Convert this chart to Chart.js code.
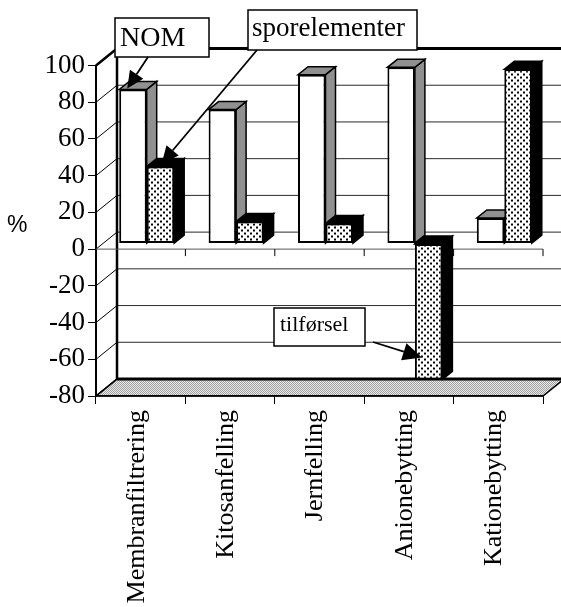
<!DOCTYPE html>
<html>
<head>
<meta charset="utf-8">
<script src="https://cdn.jsdelivr.net/npm/chart.js@4/dist/chart.umd.min.js"></script>
<style>
  html, body { margin: 0; padding: 0; background: #fff; }
  #wrap { width: 561px; height: 607px; position: relative; }
</style>
</head>
<body>
<div id="wrap"><canvas id="c" width="561" height="607"></canvas></div>
<script>
// Removal efficiency per treatment method (%)
const categories = ['Membranfiltrering', 'Kitosanfelling', 'Jernfelling', 'Anionebytting', 'Kationebytting'];
const nomValues  = [84, 73, 92, 96, 14];
const sporValues = [42, 12, 11, -74, 95];
const seriesNames = ['NOM', 'sporelementer'];
const yTickValues = [-80, -60, -40, -20, 0, 20, 40, 60, 80, 100];
const supplyLabel = 'tilførsel';
const yUnit = '%';

const SERIF = '"Liberation Serif", "Times New Roman", serif';
const WALL  = { x: 21, y: -17 };   // front plane -> back wall
const PLANE = { x: 6,  y: -5.5 };  // front plane -> column fronts
const COL   = { x: 10, y: -8 };    // column thickness

function makePattern(size, paint) {
  const c = document.createElement('canvas');
  c.width = c.height = size;
  const g = c.getContext('2d');
  paint(g);
  return g.createPattern(c, 'repeat');
}
const dotPattern = makePattern(6, g => {
  g.fillStyle = '#fff'; g.fillRect(0, 0, 6, 6);
  g.fillStyle = '#000'; g.fillRect(1, 1, 2, 2); g.fillRect(4, 4, 2, 2);
});
const checkPattern = makePattern(2, g => {
  g.fillStyle = '#fff'; g.fillRect(0, 0, 2, 2);
  g.fillStyle = '#222'; g.fillRect(0, 0, 1, 1); g.fillRect(1, 1, 1, 1);
});
const floorPattern = makePattern(2, g => {
  g.fillStyle = '#e8e8e8'; g.fillRect(0, 0, 2, 2);
  g.fillStyle = '#a0a0a0'; g.fillRect(0, 0, 1, 1); g.fillRect(1, 1, 1, 1);
});

function line(ctx, x1, y1, x2, y2, w, color) {
  ctx.beginPath();
  ctx.moveTo(x1, y1); ctx.lineTo(x2, y2);
  ctx.lineWidth = w; ctx.strokeStyle = color || '#000';
  ctx.stroke();
}

function poly(ctx, pts, fill) {
  ctx.beginPath();
  ctx.moveTo(pts[0][0], pts[0][1]);
  for (let i = 1; i < pts.length; i++) ctx.lineTo(pts[i][0], pts[i][1]);
  ctx.closePath();
  ctx.fillStyle = fill; ctx.fill();
  ctx.lineWidth = 1.5; ctx.strokeStyle = '#000'; ctx.stroke();
}

function arrow(ctx, x1, y1, x2, y2, head, hw) {
  const a = Math.atan2(y2 - y1, x2 - x1);
  const bx = x2 - head * Math.cos(a), by = y2 - head * Math.sin(a);
  line(ctx, x1, y1, bx, by, 1.8);
  ctx.beginPath();
  ctx.moveTo(x2, y2);
  ctx.lineTo(bx + hw * Math.sin(a), by - hw * Math.cos(a));
  ctx.lineTo(bx - hw * Math.sin(a), by + hw * Math.cos(a));
  ctx.closePath();
  ctx.fillStyle = '#000'; ctx.fill();
}

function textBox(ctx, x, y, w, h, text, size, tx, ty) {
  ctx.fillStyle = '#fff'; ctx.fillRect(x, y, w, h);
  ctx.lineWidth = 1.5; ctx.strokeStyle = '#000'; ctx.strokeRect(x, y, w, h);
  ctx.fillStyle = '#000';
  ctx.font = size + 'px ' + SERIF;
  ctx.textAlign = 'left'; ctx.textBaseline = 'alphabetic';
  ctx.fillText(text, tx, ty);
}

// Walls, floor and grid of the 3-D box
const depthFrame = {
  id: 'depthFrame',
  beforeDraw(chart) {
    const { ctx, chartArea: a, scales: { y } } = chart;
    const W = chart.width;
    const L = a.left, R = a.right;
    const bx = L + WALL.x;
    const yTopF = y.getPixelForValue(100), yBotF = y.getPixelForValue(-80);
    const yTopB = yTopF + WALL.y, yBotB = yBotF + WALL.y;
    ctx.save();
    poly(ctx, [[L, yBotF], [R, yBotF], [R + WALL.x, yBotB], [bx, yBotB]], floorPattern);
    yTickValues.forEach(v => {
      const yf = y.getPixelForValue(v), yb = yf + WALL.y;
      line(ctx, L, yf, bx, yb, 1);
      if (v > -80 && v < 100) line(ctx, bx, yb, W, yb, 1, '#2a2a2a');
    });
    line(ctx, bx, yTopB, bx, yBotB, 2.5);
    line(ctx, bx - 1, yTopB, W, yTopB, 3);
    line(ctx, bx, yBotB, W, yBotB, 3);
    line(ctx, L, yTopF, bx, yTopB, 2.5);
    line(ctx, L, yBotF, bx, yBotB, 1.5);
    ctx.restore();
  },
  beforeDatasetsDraw(chart) {
    const { ctx, chartArea: a, scales: { y } } = chart;
    const y0 = y.getPixelForValue(0);
    const step = (a.right - a.left) / categories.length;
    ctx.save();
    line(ctx, a.left, y0, a.right, y0, 1, '#555');
    for (let i = 1; i <= categories.length; i++) {
      const xb = a.left + i * step;
      line(ctx, xb, y0, xb, y0 + 7, 1);
    }
    ctx.restore();

    // column fronts sit slightly behind the front plane
    ctx.save();
    ctx.translate(PLANE.x, PLANE.y);
    const metas = [chart.getDatasetMeta(0), chart.getDatasetMeta(1)];
    const sideFill = [checkPattern, '#000'];
    for (let i = 0; i < categories.length; i++) {
      metas.forEach((m, d) => {
        const el = m.data[i];
        const l = el.x - el.width / 2, r = el.x + el.width / 2;
        const top = Math.min(el.y, el.base), bot = Math.max(el.y, el.base);
        poly(ctx, [[r, top], [r + COL.x, top + COL.y], [r + COL.x, bot + COL.y], [r, bot]], sideFill[d]);
        poly(ctx, [[l, top], [r, top], [r + COL.x, top + COL.y], [l + COL.x, top + COL.y]], sideFill[d]);
      });
    }
  },
  afterDatasetsDraw(chart) {
    chart.ctx.restore();
  },
  afterDraw(chart) {
    const { ctx, scales: { y } } = chart;
    ctx.save();
    ctx.fillStyle = '#000';
    ctx.font = '23px "Liberation Sans", Arial, sans-serif';
    ctx.textAlign = 'left'; ctx.textBaseline = 'alphabetic';
    ctx.fillText(yUnit, 7, 232);

    const nomEl = chart.getDatasetMeta(0).data[0];
    const sporEl = chart.getDatasetMeta(1).data[0];
    const negEl = chart.getDatasetMeta(1).data[3];
    const left = el => el.x - el.width / 2 + PLANE.x;

    textBox(ctx, 115, 18, 94, 39, seriesNames[0], 28, 120, 46);
    arrow(ctx, 148, 57, left(nomEl) + 8, nomEl.y + PLANE.y - 1, 17, 8);

    textBox(ctx, 248, 10, 169, 40, seriesNames[1], 27, 252, 36);
    arrow(ctx, 257, 50, left(sporEl) + 15, sporEl.y + PLANE.y - 3, 17, 8);

    textBox(ctx, 274, 308, 91, 38, supplyLabel, 22, 280, 331);
    arrow(ctx, 373, 342, left(negEl) + 7, y.getPixelForValue(-62) + PLANE.y, 19, 9);
    ctx.restore();
  }
};

new Chart(document.getElementById('c'), {
  type: 'bar',
  data: {
    labels: categories,
    datasets: [
      { label: seriesNames[0], data: nomValues, backgroundColor: '#fff',
        borderColor: '#000', borderWidth: 2, borderSkipped: false },
      { label: seriesNames[1], data: sporValues, backgroundColor: dotPattern,
        borderColor: '#000', borderWidth: 2, borderSkipped: false }
    ]
  },
  options: {
    responsive: false,
    animation: false,
    categoryPercentage: 0.615,
    barPercentage: 1.0,
    layout: { padding: { top: 65.5, right: 18, bottom: 0, left: 0 } },
    plugins: { legend: { display: false }, tooltip: { enabled: false } },
    scales: {
      x: {
        grid: { drawOnChartArea: false, drawTicks: true, tickLength: 8, color: '#000', lineWidth: 1 },
        border: { display: true, color: '#000', width: 1.5 },
        ticks: { minRotation: 90, maxRotation: 90, autoSkip: false, padding: 6, labelOffset: -4,
                 color: '#000', font: { family: SERIF, size: 26 } },
        afterFit(scale) { scale.height = 211; }
      },
      y: {
        min: -80, max: 100,
        grid: { drawOnChartArea: false, drawTicks: true, tickLength: 8, color: '#000', lineWidth: 1 },
        border: { display: true, color: '#000', width: 2 },
        ticks: { stepSize: 20, padding: 3, color: '#000', font: { family: SERIF, size: 27 },
                 callback: v => (yTickValues.includes(v) ? String(v) : '') },
        afterFit(scale) { scale.width = 96; }
      }
    }
  },
  plugins: [depthFrame]
});
</script>
</body>
</html>
